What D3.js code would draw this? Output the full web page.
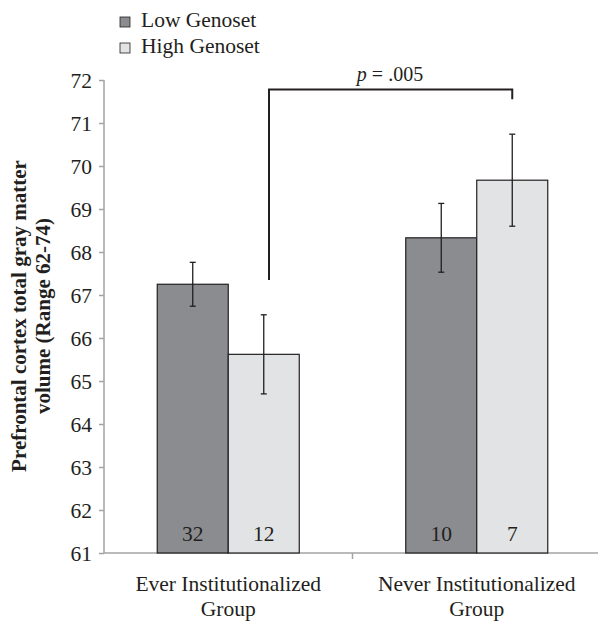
<!DOCTYPE html>
<html><head><meta charset="utf-8">
<script src="https://cdn.jsdelivr.net/npm/d3@7"></script>
<style>body{margin:0;background:#fff}svg{display:block}text{font-family:"Liberation Serif","Times New Roman",serif;fill:#231f20}</style>
</head><body><svg id="c" width="598" height="621"></svg>
<script>
const categories = ["Ever Institutionalized|Group", "Never Institutionalized|Group"];
const seriesNames = ["Low Genoset", "High Genoset"];
const lowValues = [67.25, 68.33];
const highValues = [65.62, 69.67];
const lowErrors = [0.51, 0.80];
const highErrors = [0.92, 1.07];
const lowN = [32, 10];
const highN = [12, 7];
const yTicks = [61,62,63,64,65,66,67,68,69,70,71,72];
const pLabel = ".005";

const colors = ["#8b8c90", "#e2e3e5"];
const FS = "21.5px";
const svg = d3.select("#c");
const x = d3.scaleBand().domain(categories).range([104, 601]);
const x1 = d3.scaleBand().domain(seriesNames).range([0, 142]);
const y = d3.scaleLinear().domain([61, 72]).range([553, 80]);

// y axis
const ya = svg.append("g").attr("transform","translate(104,0)")
  .call(d3.axisLeft(y).tickValues(yTicks).tickSize(5).tickPadding(7).tickFormat(d3.format("d")));
ya.selectAll("path,line").attr("stroke","#a3a3a3").attr("stroke-width",1.5);
ya.select("path").attr("d","M0,80V553");
ya.selectAll("text").style("font-size",FS).style("font-family","Liberation Serif").attr("fill","#231f20").attr("dy","0.35em");

// x axis
const xa = svg.append("g").attr("transform","translate(0,553)")
  .call(d3.axisBottom(x).tickSize(0).tickFormat(""));
xa.select("path").attr("stroke","#a3a3a3").attr("stroke-width",1.5).attr("d","M104,0H601");
svg.append("line").attr("x1",x(categories[1])).attr("x2",x(categories[1])).attr("y1",553).attr("y2",559).attr("stroke","#a3a3a3").attr("stroke-width",1.5);

const data = categories.map((c,i)=>[
  {cat:c, s:seriesNames[0], v:lowValues[i], e:lowErrors[i], n:lowN[i]},
  {cat:c, s:seriesNames[1], v:highValues[i], e:highErrors[i], n:highN[i]}
]).flat();

const barX = d => x(d.cat) + x.bandwidth()/2 - 71 + x1(d.s);
svg.selectAll("rect.bar").data(data).join("rect").attr("class","bar")
  .attr("x", barX).attr("width", x1.bandwidth())
  .attr("y", d=>y(d.v)).attr("height", d=>y(61)-y(d.v))
  .attr("fill", d=>colors[seriesNames.indexOf(d.s)])
  .attr("stroke","#231f20").attr("stroke-width",1.2);

// error bars
const eb = svg.selectAll("g.eb").data(data).join("g").attr("class","eb");
eb.append("line").attr("x1",d=>barX(d)+x1.bandwidth()/2).attr("x2",d=>barX(d)+x1.bandwidth()/2)
  .attr("y1",d=>y(d.v+d.e)).attr("y2",d=>y(d.v-d.e)).attr("stroke","#231f20").attr("stroke-width",1.3);
[1,-1].forEach(sg=>{
  eb.append("line").attr("x1",d=>barX(d)+x1.bandwidth()/2-3).attr("x2",d=>barX(d)+x1.bandwidth()/2+3)
    .attr("y1",d=>y(d.v+sg*d.e)).attr("y2",d=>y(d.v+sg*d.e)).attr("stroke","#231f20").attr("stroke-width",1.3);
});

// n labels
svg.selectAll("text.n").data(data).join("text").attr("class","n")
  .attr("x",d=>barX(d)+x1.bandwidth()/2).attr("y",541).attr("text-anchor","middle")
  .style("font-size",FS).text(d=>d.n);

// category labels
categories.forEach(c=>{
  const t = svg.append("text").attr("x", x(c)+x.bandwidth()/2).attr("y",591).attr("text-anchor","middle").style("font-size",FS);
  c.split("|").forEach((l,i)=>t.append("tspan").attr("x",x(c)+x.bandwidth()/2).attr("dy",i?25:0).text(l));
});

// y title
const yt = svg.append("text").attr("transform","translate(0,316) rotate(-90)").attr("text-anchor","middle")
  .style("font-size","21px").style("font-weight","bold");
yt.append("tspan").attr("x",0).attr("y",26).text("Prefrontal cortex total gray matter");
yt.append("tspan").attr("x",0).attr("y",50).text("volume (Range 62-74)");

// significance bracket
const bx1 = 269, bx2 = barX(data[3]) + x1.bandwidth()/2;
const by = 89.5;
svg.append("path").attr("d",`M${bx1},${y(67.35)}V${by}H${bx2}V${y(71.55)}`)
  .attr("fill","none").attr("stroke","#231f20").attr("stroke-width",2);
const pt = svg.append("text").attr("x",390).attr("y",81).attr("text-anchor","middle").style("font-size","20px");
pt.append("tspan").style("font-style","italic").text("p");
pt.append("tspan").text(" = " + pLabel);

// legend
const lg = svg.selectAll("g.lg").data(seriesNames).join("g").attr("class","lg")
  .attr("transform",(d,i)=>`translate(120,${17+i*26})`);
lg.append("rect").attr("width",10).attr("height",10).attr("fill",(d,i)=>colors[i]).attr("stroke","#231f20").attr("stroke-width",0.8);
lg.append("text").attr("x",21).attr("y",10).style("font-size",FS).text(d=>d);
</script></body></html>
